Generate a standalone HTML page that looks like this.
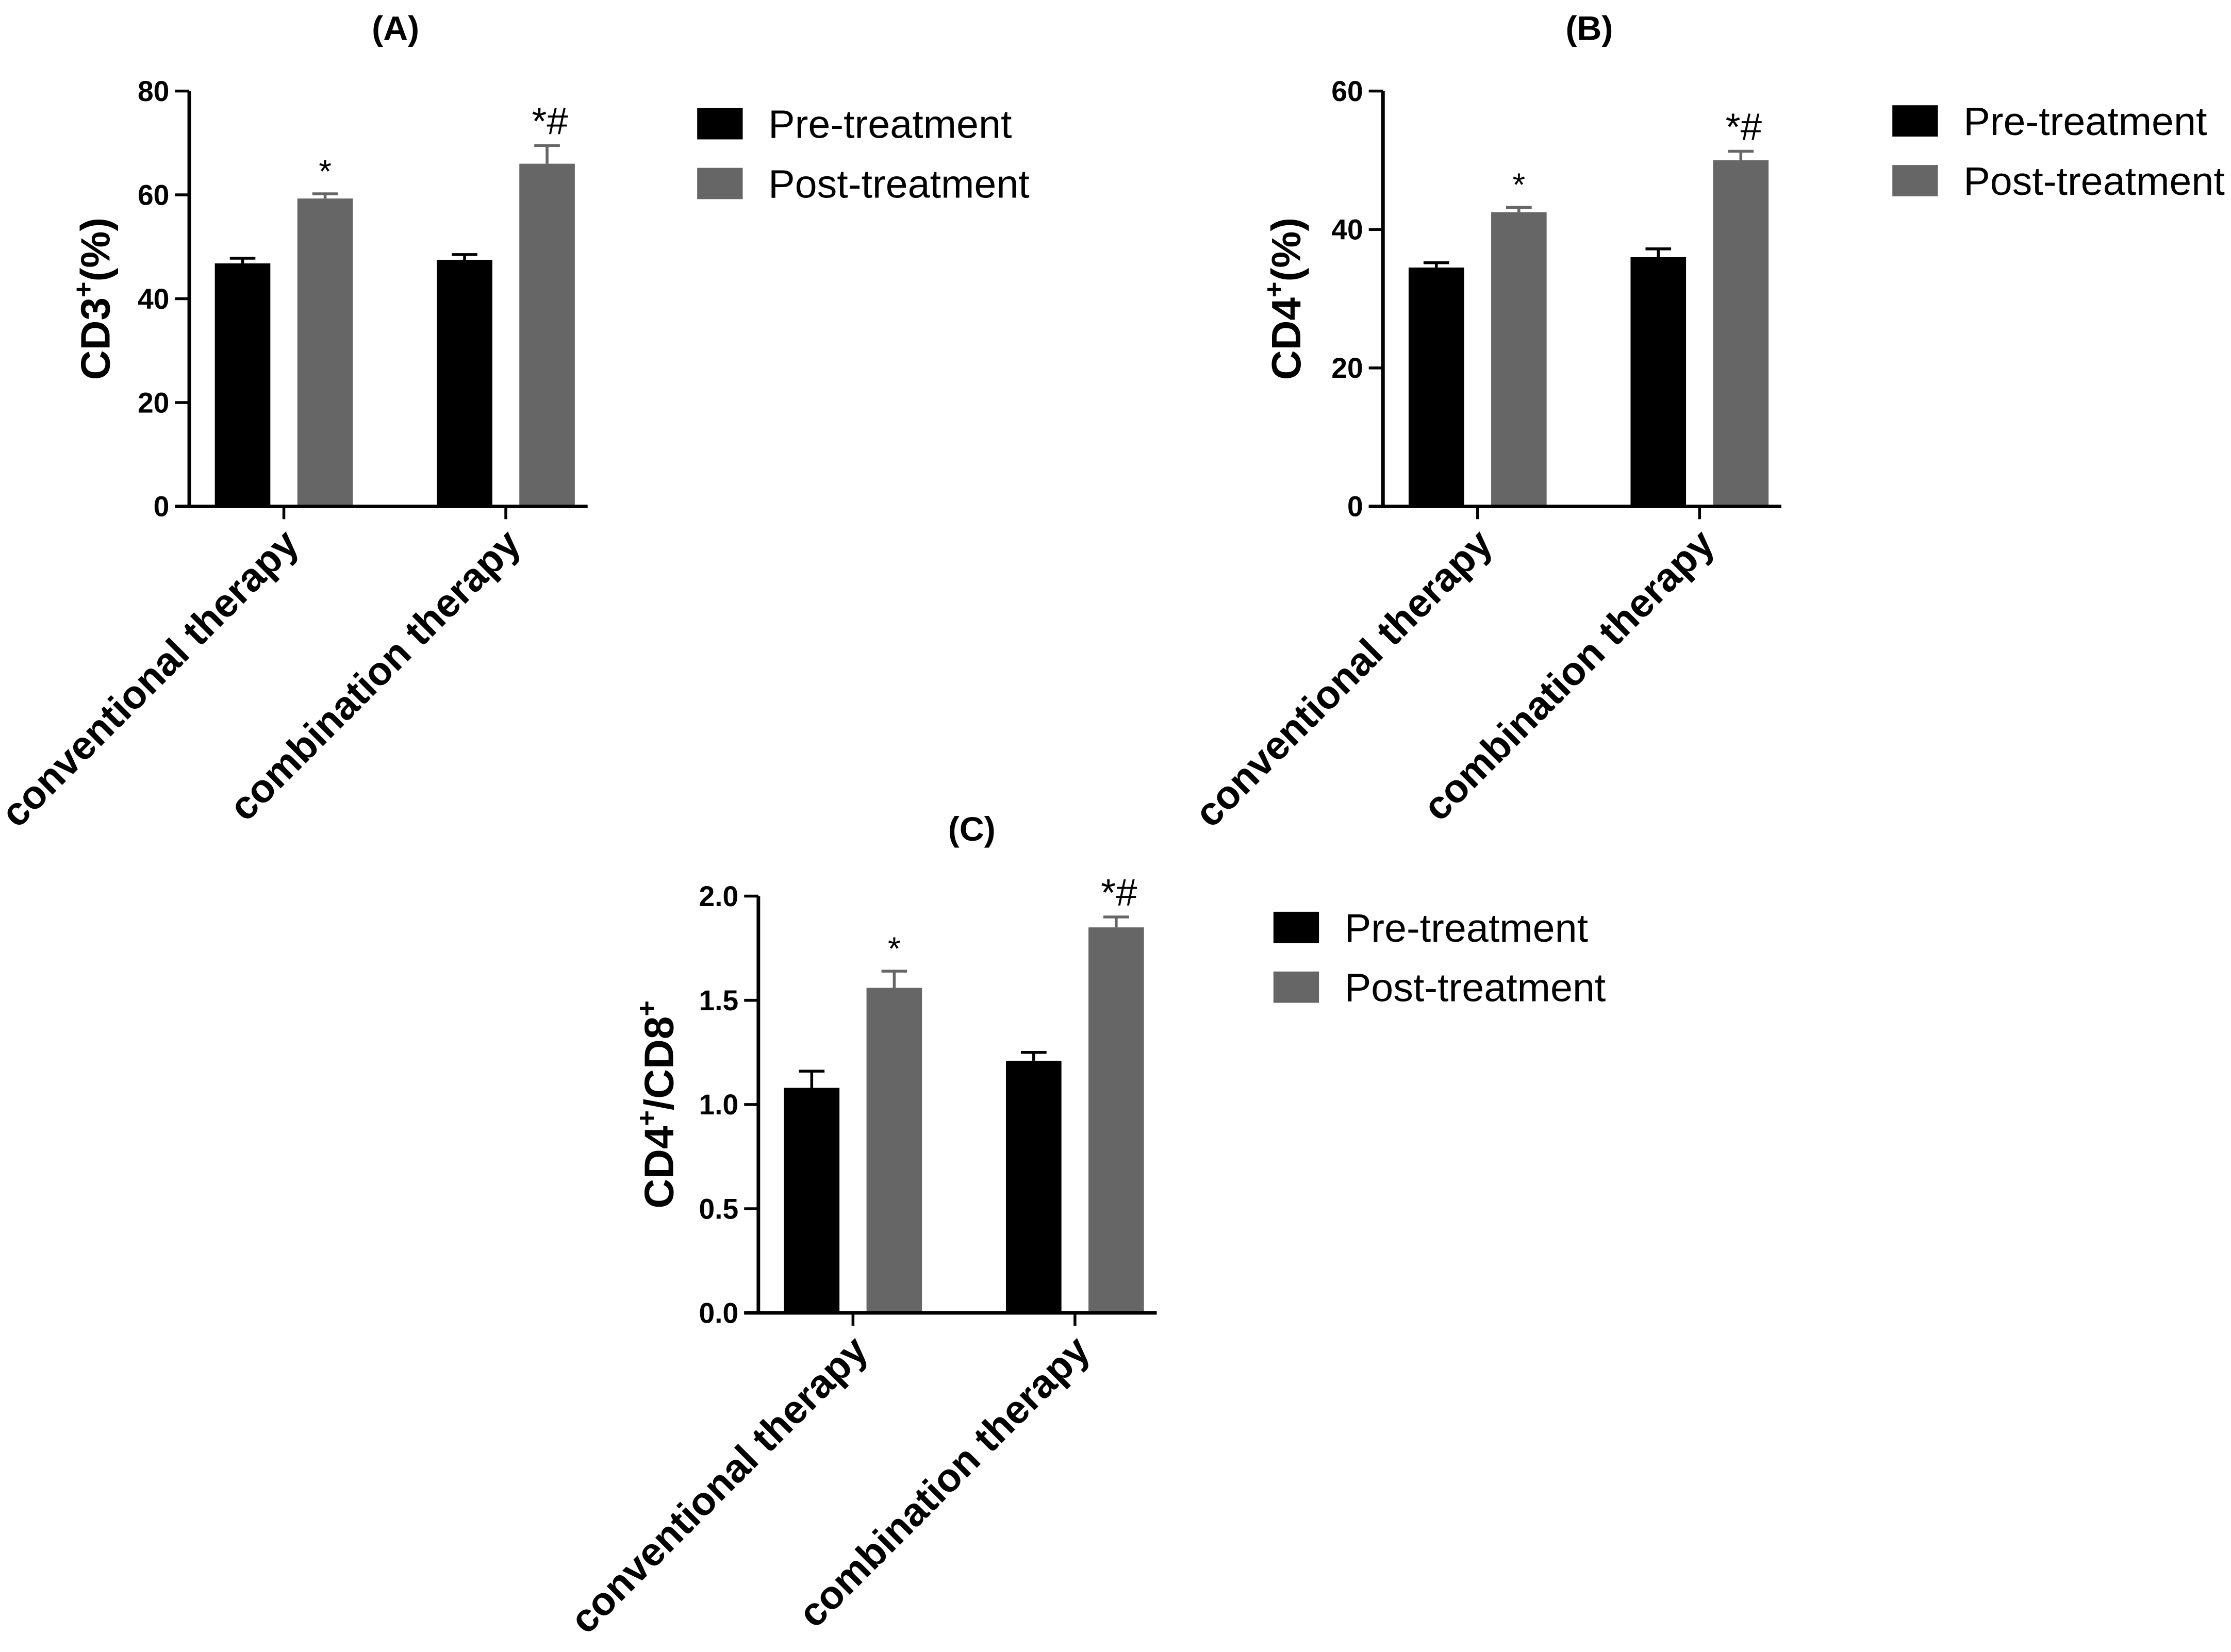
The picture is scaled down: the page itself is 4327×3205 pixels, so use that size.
<!DOCTYPE html>
<html><head><meta charset="utf-8"><style>
html,body{margin:0;padding:0;background:#fff;width:4327px;height:3205px;overflow:hidden}
svg{display:block}
text{font-family:"Liberation Sans",Arial,sans-serif}
</style></head><body>
<svg id="fig" width="4327" height="3205" viewBox="0 0 1568 1161.4" preserveAspectRatio="none" xmlns="http://www.w3.org/2000/svg"></svg>
<script>
const categories = ["conventional therapy", "combination therapy"];
const seriesNames = ["Pre-treatment", "Post-treatment"];
const preA = [46.8, 47.5], preAErr = [1.0, 1.0];
const postA = [59.3, 66.0], postAErr = [0.9, 3.5];
const preB = [34.5, 36.0], preBErr = [0.7, 1.2];
const postB = [42.5, 50.0], postBErr = [0.7, 1.3];
const preC = [1.08, 1.21], preCErr = [0.08, 0.04];
const postC = [1.56, 1.85], postCErr = [0.08, 0.05];
const ticksA = [0, 20, 40, 60, 80];
const ticksB = [0, 20, 40, 60];
const ticksC = ["0.0", "0.5", "1.0", "1.5", "2.0"];
const marksA = ["*", "*#"], marksB = ["*", "*#"], marksC = ["*", "*#"];

const NS = "http://www.w3.org/2000/svg";
const svg = document.getElementById("fig");
function mk(tag, attrs, parent, txt) {
  const e = document.createElementNS(NS, tag);
  for (const k in attrs) e.setAttribute(k, attrs[k]);
  if (txt !== undefined) e.textContent = txt;
  (parent || svg).appendChild(e);
  return e;
}
const colors = ["#000000", "#666666"];

function panel(p) {
  const g = mk("g", {}, svg);
  
  
  const yScale = v => p.y0 - (v / p.ymax) * (p.y0 - p.yTop);
  const t = mk("text", {x: p.titleX, y: p.titleY, "font-size": 24, "font-weight": "bold", "text-anchor": "middle"}, g, p.title);
  
  
  const series = [[p.pre, p.preErr], [p.post, p.postErr]];
  const groupStart = [p.ax + 18, p.ax + 174];
  for (let c = 0; c < categories.length; c++) {
    for (let s = 0; s < 2; s++) {
      const v = series[s][0][c], err = series[s][1][c];
      const x = groupStart[c] + s * 58;
      const w = 39;
      const eb = mk("path", {d: `M${x + w/2} ${yScale(v)} V${yScale(v + err)} M${x + w/2 - 9} ${yScale(v + err)} H${x + w/2 + 9}`, stroke: colors[s], "stroke-width": 2, fill: "none"}, g);
      
      
      const r = mk("rect", {x: x, y: yScale(v), width: w, height: p.y0 - yScale(v), fill: colors[s]}, g);
      
      
      if (s === 1) {
        const m = mk("text", {x: x + w/2 + (c ? 2 : 0), y: yScale(v + err) - 8, "font-size": c ? 27 : 23, "text-anchor": "middle"}, g, p.marks[c]);
        
        
      }
    }
    const cx = groupStart[c] + 48.5;
    const tk = mk("line", {x1: cx, y1: p.y0, x2: cx, y2: p.y0 + 9, stroke: "#000", "stroke-width": 2}, g);
    
    
    const lb = mk("text", {transform: `translate(${cx + 12},${p.y0 + 28}) rotate(-45)`, "font-size": 28, "font-weight": "bold", "text-anchor": "end"}, g, categories[c]);
    
    
  }
  const ya = mk("line", {x1: p.ax, y1: p.yTop, x2: p.ax, y2: p.y0, stroke: "#000", "stroke-width": 2.5}, g);
  
  
  const xa = mk("line", {x1: p.ax - 10, y1: p.y0, x2: p.ax + 280, y2: p.y0, stroke: "#000", "stroke-width": 2.5}, g);
  
  
  p.ticks.forEach(tv => {
    const y = yScale(parseFloat(tv));
    const tl = mk("line", {x1: p.ax - 10, y1: y, x2: p.ax, y2: y, stroke: "#000", "stroke-width": 2}, g);
    
    
    const tt = mk("text", {x: p.ax - 14, y: y + 7, "font-size": 20, "font-weight": "bold", "text-anchor": "end"}, g, String(tv));
    
    
  });
  const yl = mk("text", {transform: `translate(${p.ylx},${(p.yTop + p.y0) / 2}) rotate(-90)`, "font-size": 29, "font-weight": "bold", "text-anchor": "middle"}, g);
  
  
  p.ylabel.forEach(part => {
    mk("tspan", part.sup ? {"font-size": 19, dy: -12} : {dy: part.down ? 12 : 0}, yl, part.t);
  });
  seriesNames.forEach((n, i) => {
    const lr = mk("rect", {x: p.legX, y: p.legY + i * 42 - 11, width: 32, height: 22, fill: colors[i]}, g);
    
    
    const lt = mk("text", {x: p.legX + 50, y: p.legY + i * 42 + 10, "font-size": 28}, g, n);
    
    
  });
}

panel({name: "panel-a", title: "(A)", titleX: 278, titleY: 28, ax: 133, yTop: 64, y0: 356, ymax: 80,
  pre: preA, preErr: preAErr, post: postA, postErr: postAErr, ticks: ticksA, marks: marksA, ylx: 77,
  ylabel: [{t: "CD3"}, {t: "+", sup: true}, {t: "(%)", down: true}], legX: 490, legY: 87});
panel({name: "panel-b", title: "(B)", titleX: 1117, titleY: 28, ax: 972, yTop: 64, y0: 356, ymax: 60,
  pre: preB, preErr: preBErr, post: postB, postErr: postBErr, ticks: ticksB, marks: marksB, ylx: 914,
  ylabel: [{t: "CD4"}, {t: "+", sup: true}, {t: "(%)", down: true}], legX: 1330, legY: 85});
panel({name: "panel-c", title: "(C)", titleX: 683, titleY: 591, ax: 533, yTop: 630, y0: 923, ymax: 2.0,
  pre: preC, preErr: preCErr, post: postC, postErr: postCErr, ticks: ticksC, marks: marksC, ylx: 473,
  ylabel: [{t: "CD4"}, {t: "+", sup: true}, {t: "/CD8", down: true}, {t: "+", sup: true}], legX: 895, legY: 652});
</script>
</body></html>
